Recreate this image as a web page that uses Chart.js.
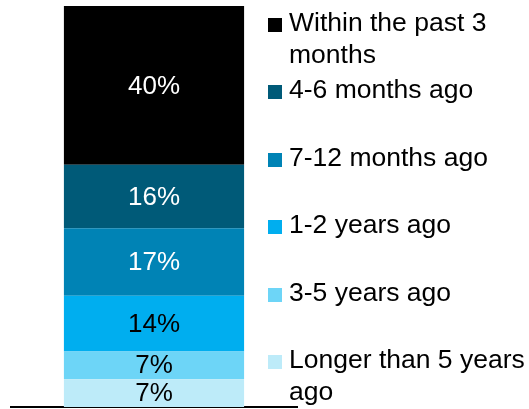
<!DOCTYPE html>
<html>
<head>
<meta charset="utf-8">
<script src="https://cdn.jsdelivr.net/npm/chart.js@4/dist/chart.umd.min.js"></script>
<style>
  body { margin: 0; background: #fff; }
  #wrap { position: relative; width: 529px; height: 409px; }
  #legend { position: absolute; left: 268px; top: 6px; font-family: "Liberation Sans", Arial, sans-serif; font-size: 26.5px; line-height: 32px; color: #000; }
  #legend .item { position: relative; height: 67.4px; padding-left: 21px; white-space: nowrap; }
  #legend .box { position: absolute; left: 0; top: 12px; width: 14px; height: 14px; }
</style>
</head>
<body>
<div id="wrap">
  <canvas id="chartStack" width="529" height="409"></canvas>
  <div id="legend"></div>
</div>
<script>
// legend order, top of the bar first
const categories = ['Within the past 3<br>months', '4-6 months ago', '7-12 months ago', '1-2 years ago', '3-5 years ago', 'Longer than 5 years<br>ago'];
const values = [40, 16, 17, 14, 7, 7];
const colors = ['#000000', '#005a78', '#0083b5', '#00aeef', '#6dd5f7', '#bdebf9'];
const labelColors = ['#ffffff', '#ffffff', '#ffffff', '#000000', '#000000', '#000000'];

const total = values.reduce((a, b) => a + b, 0);

// chart.js stacks dataset 0 at the bottom, so feed them reversed
let datasets = categories.map((cat, i) => {
  return {
    label: cat.replace('<br>', ' '),
    data: [values[i]],
    backgroundColor: colors[i],
    labelColor: labelColors[i],
    borderWidth: 0,
    barPercentage: 0.63,
    categoryPercentage: 1
  };
}).reverse();

const barLabels = {
  id: 'barLabels',
  afterDatasetsDraw(chart) {
    const ctx = chart.ctx;
    ctx.save();
    ctx.font = '26px "Liberation Sans", Arial, sans-serif';
    ctx.textAlign = 'center';
    ctx.textBaseline = 'middle';
    chart.data.datasets.forEach((ds, i) => {
      const bar = chart.getDatasetMeta(i).data[0];
      ctx.fillStyle = ds.labelColor;
      ctx.fillText(ds.data[0] + '%', bar.x, (bar.y + bar.base) / 2 + 1);
    });
    ctx.restore();
  }
};

const config = {
  type: 'bar',
  data: { labels: [''], datasets: datasets },
  options: {
    responsive: false,
    animation: false,
    layout: { padding: { left: 11, right: 232, top: 6, bottom: 2 } },
    plugins: { legend: { display: false }, tooltip: { enabled: false } },
    scales: {
      x: {
        stacked: true,
        grid: { display: false, drawTicks: false, tickLength: 0 },
        ticks: { display: false, padding: 0 },
        border: { display: true, color: '#000', width: 2 }
      },
      y: { stacked: true, display: false, min: 0, max: total }
    }
  },
  plugins: [barLabels]
};

const chartStack = new Chart(document.getElementById('chartStack'), config);

// html legend, built from the same arrays
const legend = document.getElementById('legend');
categories.forEach((cat, i) => {
  const item = document.createElement('div');
  item.className = 'item';
  item.innerHTML = '<span class="box" style="background:' + colors[i] + '"></span>' + cat;
  legend.appendChild(item);
});
</script>
</body>
</html>
